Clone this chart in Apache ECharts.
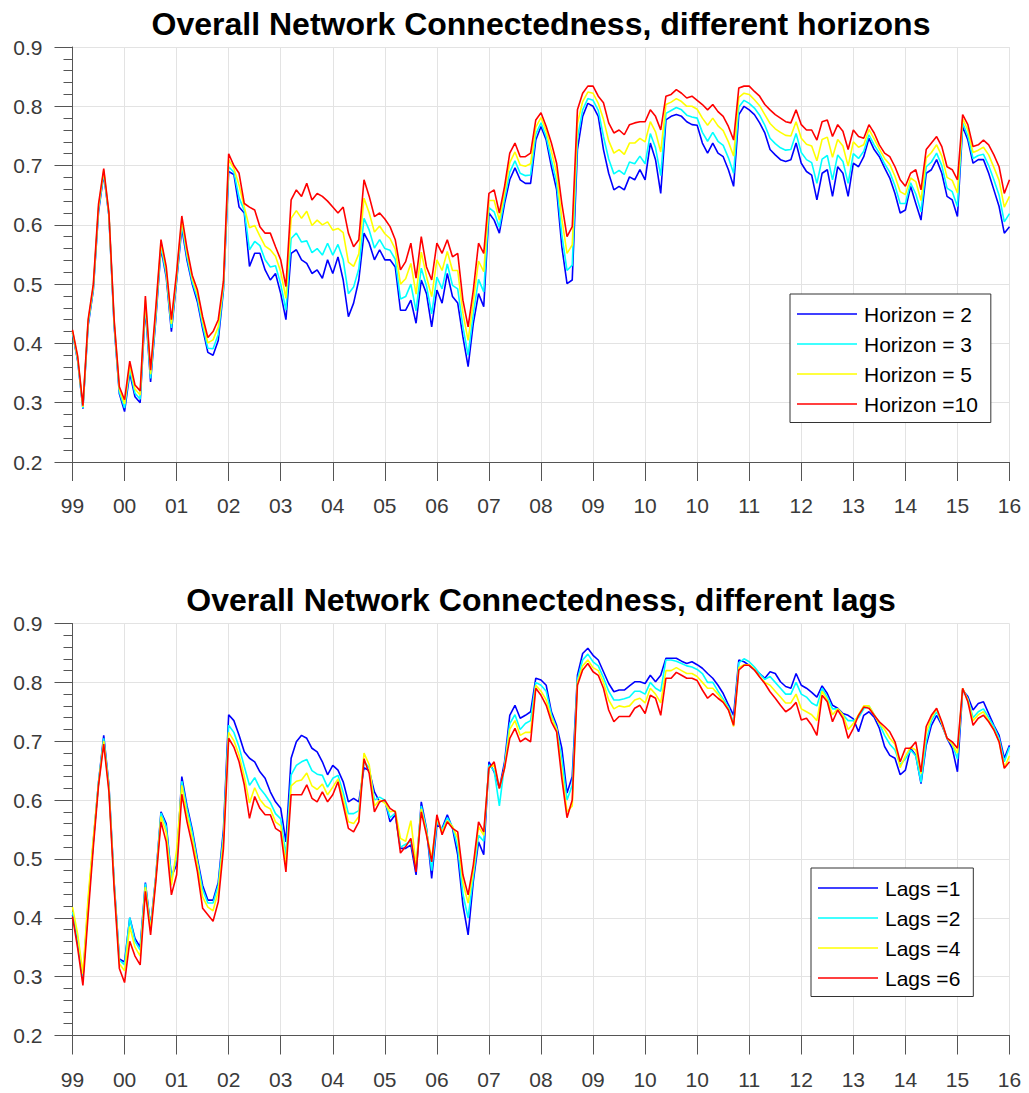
<!DOCTYPE html>
<html><head><meta charset="utf-8">
<script src="https://cdn.jsdelivr.net/npm/echarts@6/dist/echarts.min.js"></script>
<style>html,body{margin:0;padding:0;background:#fff}#c{width:1029px;height:1093px}</style>
</head><body><div id="c"></div>
<script>
// x tick labels (one per year gridline)
const tickLabels = ['99','00','01','02','03','04','05','06','07','08','09','10','10','11','12','13','14','15','16'];
const titleTop = 'Overall Network Connectedness, different horizons';
const titleBottom = 'Overall Network Connectedness, different lags';
const horizonNames = ['Horizon = 2','Horizon = 3','Horizon = 5','Horizon =10'];
const lagNames = ['Lags =1','Lags =2','Lags =4','Lags =6'];
// samples every 0.1 of a year-tick interval (181 points each)
const horizon2 = [
.418,.370,.290,.430,.490,.622,.685,.615,.430,.315,
.285,.350,.310,.300,.460,.335,.440,.560,.512,.420,
.505,.595,.540,.500,.470,.425,.385,.380,.405,.490,
.690,.685,.630,.620,.530,.552,.552,.524,.507,.518,
.484,.440,.552,.558,.541,.535,.518,.524,.510,.541,
.518,.546,.507,.445,.468,.507,.586,.569,.541,.558,
.541,.541,.529,.456,.456,.473,.434,.507,.484,.428,
.490,.468,.518,.479,.468,.411,.361,.434,.484,.462,
.620,.608,.586,.636,.676,.696,.676,.670,.670,.743,
.766,.743,.698,.659,.563,.501,.507,.727,.783,.805,
.800,.783,.727,.687,.659,.665,.659,.681,.676,.693,
.676,.738,.710,.653,.777,.783,.786,.783,.774,.769,
.768,.738,.721,.738,.721,.715,.693,.665,.786,.800,
.794,.786,.772,.755,.727,.718,.710,.707,.710,.738,
.704,.690,.684,.642,.687,.693,.648,.698,.687,.648,
.704,.698,.715,.746,.727,.715,.696,.679,.653,.620,
.625,.665,.636,.608,.687,.693,.710,.687,.648,.642,
.614,.766,.743,.704,.710,.710,.687,.659,.631,.586,
.597];
const horizon3 = [
.419,.372,.291,.433,.493,.626,.688,.616,.433,.318,
.291,.356,.316,.306,.466,.341,.446,.564,.517,.426,
.509,.601,.546,.504,.476,.431,.392,.391,.415,.494,
.698,.689,.646,.624,.558,.572,.565,.541,.529,.531,
.500,.456,.577,.586,.571,.573,.553,.560,.549,.569,
.549,.567,.541,.484,.495,.526,.611,.591,.561,.575,
.560,.557,.542,.475,.479,.500,.455,.527,.497,.450,
.512,.492,.534,.498,.492,.428,.380,.450,.508,.487,
.629,.622,.596,.644,.689,.708,.687,.683,.684,.753,
.772,.749,.709,.672,.583,.523,.532,.746,.794,.813,
.810,.793,.749,.711,.686,.692,.685,.706,.703,.716,
.703,.754,.730,.683,.788,.793,.798,.794,.785,.782,
.780,.756,.741,.756,.741,.734,.713,.687,.799,.810,
.805,.797,.785,.768,.746,.737,.730,.726,.727,.754,
.722,.710,.705,.670,.711,.717,.676,.718,.707,.670,
.720,.712,.724,.752,.735,.721,.703,.689,.666,.636,
.636,.671,.652,.622,.698,.706,.721,.700,.662,.656,
.631,.772,.750,.712,.717,.719,.700,.676,.650,.605,
.619];
const horizon5 = [
.421,.375,.293,.437,.496,.630,.692,.618,.437,.323,
.298,.363,.323,.313,.473,.348,.453,.570,.524,.433,
.515,.608,.553,.510,.483,.438,.401,.406,.428,.500,
.710,.695,.667,.630,.595,.599,.581,.564,.558,.547,
.521,.476,.611,.624,.611,.623,.599,.608,.600,.605,
.591,.594,.587,.537,.530,.551,.645,.620,.588,.598,
.585,.577,.559,.500,.509,.535,.483,.554,.513,.479,
.541,.523,.555,.523,.523,.451,.405,.470,.539,.521,
.641,.641,.608,.655,.705,.723,.701,.699,.703,.765,
.781,.758,.724,.688,.610,.552,.566,.771,.808,.824,
.822,.805,.778,.742,.721,.727,.719,.738,.738,.746,
.740,.774,.757,.723,.803,.807,.813,.808,.800,.800,
.795,.780,.768,.780,.767,.759,.740,.716,.815,.822,
.820,.811,.801,.786,.771,.762,.756,.751,.750,.774,
.746,.736,.733,.708,.744,.748,.714,.744,.733,.699,
.740,.731,.735,.761,.745,.728,.712,.702,.682,.656,
.651,.679,.673,.641,.713,.722,.735,.716,.680,.675,
.654,.779,.760,.722,.726,.731,.718,.697,.675,.630,
.648];
const horizon10 = [
.423,.378,.295,.440,.500,.635,.695,.620,.440,.327,
.305,.370,.330,.320,.480,.355,.460,.575,.530,.440,
.520,.615,.560,.515,.490,.445,.410,.420,.440,.505,
.720,.700,.687,.636,.630,.625,.597,.586,.586,.563,
.541,.496,.642,.659,.648,.670,.642,.653,.648,.640,
.630,.620,.630,.586,.563,.575,.676,.648,.614,.620,
.610,.597,.575,.524,.538,.569,.510,.580,.529,.507,
.569,.552,.575,.546,.552,.473,.428,.490,.569,.552,
.653,.659,.620,.665,.721,.738,.715,.715,.721,.777,
.789,.766,.738,.704,.636,.580,.597,.794,.822,.834,
.834,.817,.806,.772,.755,.760,.752,.769,.772,.774,
.774,.794,.783,.760,.817,.820,.828,.822,.814,.817,
.810,.803,.794,.803,.791,.783,.766,.743,.831,.834,
.834,.825,.817,.803,.794,.786,.780,.774,.772,.794,
.769,.760,.760,.743,.774,.777,.749,.769,.758,.727,
.760,.749,.746,.769,.755,.735,.721,.715,.698,.676,
.665,.687,.693,.659,.727,.738,.749,.732,.698,.693,
.676,.786,.769,.732,.735,.743,.735,.718,.698,.653,
.676];
const lags1 = [
.405,.360,.298,.420,.530,.630,.710,.625,.460,.330,
.325,.400,.365,.350,.460,.385,.470,.580,.560,.470,
.490,.640,.590,.550,.500,.455,.430,.430,.460,.550,
.745,.735,.710,.682,.671,.665,.648,.637,.614,.597,
.586,.529,.671,.699,.710,.705,.688,.682,.665,.643,
.659,.651,.631,.597,.603,.597,.655,.650,.614,.597,
.600,.563,.575,.518,.518,.524,.473,.597,.552,.467,
.558,.552,.575,.552,.507,.422,.371,.462,.529,.507,
.665,.648,.620,.665,.744,.761,.739,.744,.750,.807,
.804,.795,.750,.727,.688,.612,.640,.812,.849,.858,
.846,.838,.818,.798,.784,.787,.787,.794,.801,.801,
.798,.812,.801,.812,.841,.841,.841,.836,.832,.835,
.830,.824,.815,.807,.795,.781,.762,.744,.838,.835,
.829,.821,.815,.807,.818,.815,.801,.793,.790,.815,
.795,.790,.783,.775,.794,.781,.761,.756,.747,.744,
.738,.716,.744,.750,.741,.722,.691,.676,.671,.643,
.651,.688,.676,.628,.693,.727,.744,.727,.705,.688,
.648,.787,.776,.753,.764,.767,.747,.727,.710,.671,
.693];
const lags2 = [
.410,.365,.300,.425,.530,.630,.705,.622,.458,.328,
.320,.400,.360,.345,.458,.382,.468,.578,.555,.468,
.500,.632,.585,.545,.495,.448,.425,.425,.455,.540,
.727,.715,.690,.657,.625,.638,.620,.609,.596,.577,
.568,.506,.643,.659,.665,.669,.650,.644,.642,.622,
.637,.642,.613,.577,.577,.582,.665,.655,.600,.605,
.600,.570,.578,.520,.525,.530,.485,.590,.550,.480,
.565,.550,.570,.555,.520,.440,.400,.470,.540,.530,
.660,.650,.590,.660,.730,.745,.720,.730,.735,.800,
.795,.785,.745,.722,.670,.600,.625,.805,.838,.848,
.835,.828,.808,.785,.770,.770,.772,.775,.785,.785,
.780,.800,.790,.785,.838,.838,.836,.832,.828,.826,
.822,.815,.800,.800,.785,.772,.758,.730,.833,.840,
.835,.826,.815,.805,.810,.800,.790,.780,.780,.800,
.780,.775,.765,.760,.790,.775,.755,.755,.745,.735,
.735,.740,.755,.760,.745,.730,.710,.695,.685,.660,
.670,.685,.675,.630,.700,.735,.750,.730,.705,.695,
.670,.788,.772,.740,.750,.755,.740,.725,.705,.665,
.690];
const lags4 = [
.418,.372,.305,.435,.535,.628,.700,.620,.455,.322,
.310,.385,.350,.335,.452,.378,.466,.572,.545,.455,
.515,.625,.575,.535,.490,.435,.418,.412,.445,.530,
.715,.701,.676,.640,.595,.621,.601,.590,.585,.563,
.556,.491,.624,.632,.634,.646,.624,.618,.627,.609,
.622,.636,.602,.563,.560,.572,.680,.660,.590,.600,
.595,.580,.582,.535,.530,.565,.490,.585,.545,.500,
.570,.545,.565,.555,.535,.460,.425,.480,.555,.540,
.655,.660,.620,.655,.720,.735,.710,.715,.715,.795,
.785,.770,.740,.720,.650,.580,.590,.800,.828,.838,
.825,.820,.800,.770,.755,.760,.758,.760,.770,.773,
.765,.790,.780,.765,.820,.820,.825,.820,.815,.815,
.810,.800,.790,.790,.780,.768,.755,.725,.825,.830,
.830,.822,.810,.800,.795,.785,.775,.765,.765,.780,
.755,.750,.745,.735,.785,.770,.745,.755,.745,.720,
.730,.745,.760,.760,.745,.730,.720,.705,.695,.655,
.675,.690,.685,.645,.715,.740,.755,.730,.705,.695,
.680,.790,.770,.735,.745,.750,.735,.720,.700,.655,
.675];
const lags6 = [
.402,.348,.285,.405,.520,.625,.695,.614,.450,.314,
.290,.360,.335,.320,.445,.371,.461,.563,.529,.439,
.473,.610,.563,.524,.478,.416,.405,.394,.427,.518,
.705,.690,.665,.626,.569,.606,.586,.575,.575,.552,
.546,.478,.609,.609,.609,.626,.603,.597,.614,.597,
.609,.631,.592,.552,.546,.563,.670,.645,.580,.597,
.600,.586,.580,.510,.521,.535,.478,.580,.541,.495,
.575,.541,.563,.552,.546,.473,.439,.490,.563,.546,
.654,.665,.620,.654,.705,.722,.699,.705,.699,.790,
.778,.761,.733,.716,.637,.570,.600,.795,.821,.832,
.818,.812,.790,.753,.733,.742,.742,.742,.756,.761,
.747,.778,.773,.744,.807,.807,.817,.812,.807,.807,
.803,.787,.773,.781,.773,.766,.753,.727,.821,.829,
.829,.821,.809,.798,.784,.773,.761,.750,.756,.766,
.736,.739,.727,.710,.778,.767,.733,.753,.739,.705,
.722,.744,.758,.756,.744,.733,.725,.716,.699,.665,
.688,.688,.699,.648,.725,.744,.756,.733,.705,.699,
.688,.790,.767,.727,.739,.744,.733,.719,.699,.654,
.665];

const colors = ['#0000ff','#00ffff','#ffff00','#ff0000'];
const step = 0.1;
const FONT = '"Liberation Sans", Arial, Helvetica, sans-serif';
function pts(arr){ return arr.map((v,i)=>[+(i*step).toFixed(2), v]); }

function xAxis(g){
  return {type:'value', gridIndex:g, min:0, max:18, interval:1,
    axisLine:{show:true, onZero:false, lineStyle:{color:'#555', width:1}},
    axisTick:{show:true, length:19, lineStyle:{color:'#555', width:1}},
    axisLabel:{formatter:v=>tickLabels[Math.round(v)], margin:33, fontSize:21, color:'#3a3a3a', fontFamily:FONT, showMinLabel:true, showMaxLabel:true},
    splitLine:{show:true, lineStyle:{color:'#e3e3e3', width:1}}};
}
function yAxis(g){
  return {type:'value', gridIndex:g, min:0.2, max:0.9, interval:0.1,
    axisLine:{show:true, onZero:false, lineStyle:{color:'#555', width:1}},
    axisTick:{show:true, length:18, lineStyle:{color:'#555', width:1}},
    minorTick:{show:true, splitNumber:5, length:9, lineStyle:{color:'#555', width:1}},
    axisLabel:{formatter:v=>v.toFixed(1), margin:30, fontSize:21, color:'#3a3a3a', fontFamily:FONT},
    splitLine:{show:true, lineStyle:{color:'#e3e3e3', width:1}}};
}
function legend(names, left, top){
  return {data:names, orient:'vertical', left:left, top:top, padding:[9.5,13,8,7],
    itemGap:9, itemWidth:60, itemHeight:1.5, icon:'rect', selectedMode:false,
    backgroundColor:'#fff', borderColor:'#333', borderWidth:1, borderRadius:0,
    textStyle:{fontSize:21, color:'#000', fontFamily:FONT, padding:[0,0,0,2]}};
}
const topSeries = [horizon2, horizon3, horizon5, horizon10];
const botSeries = [lags1, lags2, lags4, lags6];
const series = [];
topSeries.forEach((d,k)=>series.push({type:'line', name:horizonNames[k], xAxisIndex:0, yAxisIndex:0, data:pts(d), symbol:'none', showSymbol:false, lineStyle:{width:1.6, color:colors[k]}, itemStyle:{color:colors[k]}, z:2+k}));
botSeries.forEach((d,k)=>series.push({type:'line', name:lagNames[k], xAxisIndex:1, yAxisIndex:1, data:pts(d), symbol:'none', showSymbol:false, lineStyle:{width:1.6, color:colors[k]}, itemStyle:{color:colors[k]}, z:2+k}));

const chart = echarts.init(document.getElementById('c'), null, {renderer:'svg', width:1029, height:1093});
chart.setOption({
  animation:false,
  backgroundColor:'#fff',
  grid:[{left:72.5, top:47, width:937, height:415}, {left:72.5, top:623.5, width:937, height:412}],
  xAxis:[xAxis(0), xAxis(1)],
  yAxis:[yAxis(0), yAxis(1)],
  legend:[legend(horizonNames, 790, 294), legend(lagNames, 811, 868)],
  graphic:[
    {type:'text', x:541, y:24, z:10, style:{text:titleTop, fill:'#000', font:'bold 32px '+FONT, align:'center', verticalAlign:'middle', textAlign:'center', textVerticalAlign:'middle'}},
    {type:'text', x:541, y:600, z:10, style:{text:titleBottom, fill:'#000', font:'bold 32px '+FONT, align:'center', verticalAlign:'middle', textAlign:'center', textVerticalAlign:'middle'}}
  ],
  series:series
});
</script></body></html>
